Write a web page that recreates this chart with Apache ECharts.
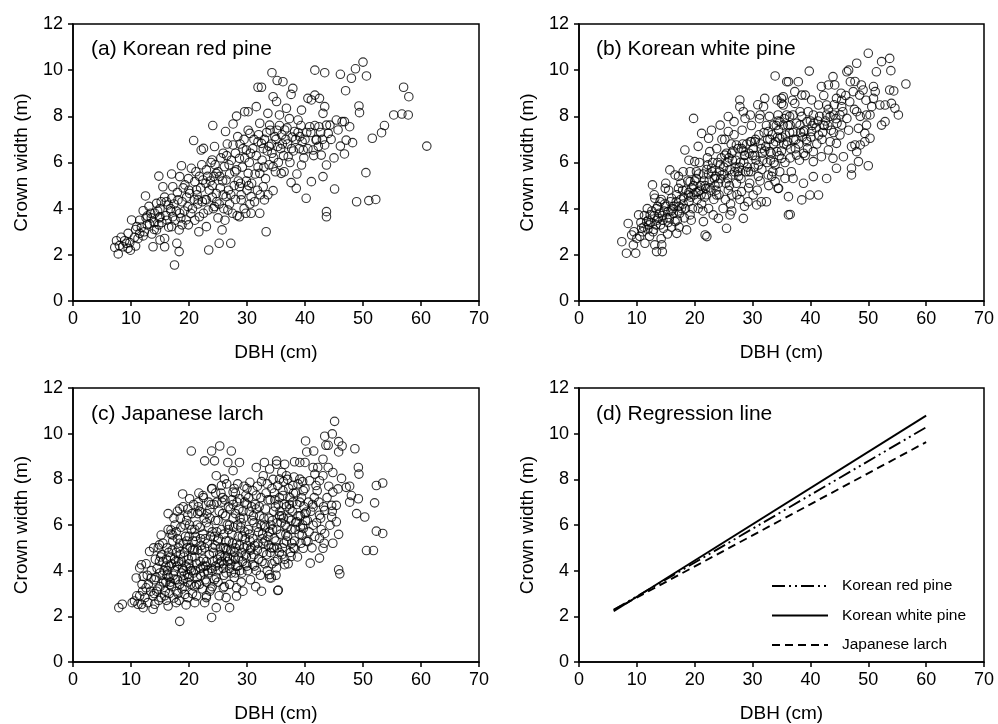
<!DOCTYPE html>
<html>
<head>
<meta charset="utf-8">
<script src="https://cdn.jsdelivr.net/npm/echarts@6/dist/echarts.min.js"></script>
<style>
  html, body { margin: 0; padding: 0; background: #fff; }
  #main { width: 998px; height: 724px; }
</style>
</head>
<body>
<div id="main"></div>
<script>
// DBH (cm), crown width (m)
var redPine = [
  [7.2,2.32],[7.8,2.04],[7.5,2.61],[8.3,2.76],[8.9,2.61],[8.6,2.35],[9.5,2.28],[9.8,2.53],[10.8,2.38],[10.6,2.76],
  [9.5,2.93],[10.1,3.51],[11.0,3.22],[11.5,2.93],[12.1,2.82],[12.5,4.55],[12.1,3.91],[12.8,3.68],[13.2,3.34],[13.8,2.35],
  [15.0,2.64],[15.8,2.35],[15.8,2.71],[14.8,5.41],[14.4,4.23],[14.1,3.80],[15.0,3.65],[14.4,3.08],[15.5,4.95],[15.2,4.30],
  [16.4,4.16],[17.0,5.50],[17.2,4.95],[17.0,4.45],[17.2,3.65],[17.0,3.22],[17.5,1.56],[17.9,2.50],[18.3,2.14],[18.3,3.08],
  [18.4,3.80],[18.1,4.38],[18.7,5.86],[18.4,5.39],[19.3,5.03],[19.8,4.09],[19.5,3.51],[20.1,4.66],[20.4,5.75],[20.8,6.95],
  [21.0,5.17],[21.3,4.81],[21.6,4.38],[21.7,3.00],[21.8,3.65],[22.1,6.54],[22.5,6.61],[22.4,5.24],[23.0,5.68],[23.0,4.38],
  [23.3,3.94],[23.0,3.22],[23.4,2.21],[24.1,7.60],[24.0,6.11],[24.4,6.69],[24.7,5.53],[24.7,4.66],[24.4,4.09],[25.2,2.50],
  [25.7,3.08],[25.9,6.40],[26.1,5.82],[26.3,7.34],[26.4,5.24],[26.4,4.52],[26.7,3.94],[27.2,2.50],[27.6,6.76],[27.6,7.67],
  [28.2,8.01],[28.4,7.12],[28.7,6.18],[28.2,5.68],[28.7,4.95],[29.0,4.38],[28.7,3.65],[29.6,8.20],[30.2,8.20],[29.9,6.54],
  [30.2,5.53],[30.5,7.26],[30.7,4.52],[30.7,3.80],[31.6,8.42],[31.9,9.26],[32.5,9.26],[32.2,7.70],[32.5,6.83],[32.2,5.53],
  [32.8,4.95],[32.2,3.80],[33.3,3.00],[33.0,4.38],[33.6,8.13],[33.9,7.62],[34.3,9.89],[34.5,8.85],[34.8,7.12],[34.5,5.82],
  [34.5,4.78],[35.2,9.55],[35.1,8.64],[35.3,6.69],[35.6,8.06],[35.9,5.53],[36.2,9.50],[36.5,7.41],[36.8,8.35],[37.1,6.25],
  [37.6,5.13],[37.9,9.21],[37.6,8.95],[38.2,7.34],[38.5,4.88],[38.8,7.84],[39.1,7.12],[39.4,8.27],[39.4,5.89],[39.7,6.54],
  [40.2,4.45],[40.5,8.78],[40.8,7.55],[41.1,8.71],[41.1,5.17],[41.4,6.54],[41.7,8.92],[41.7,10.0],[41.9,6.97],[42.4,7.55],
  [42.5,8.78],[42.8,6.32],[43.1,8.13],[43.1,5.39],[43.4,9.89],[43.4,8.42],[43.4,6.76],[43.7,7.62],[43.7,5.89],[43.7,3.87],
  [43.7,3.65],[44.0,7.26],[44.3,7.62],[45.1,4.85],[45.4,7.84],[45.7,7.41],[46.1,6.71],[46.1,9.82],[46.4,7.77],[46.8,6.37],
  [47.0,9.11],[47.1,6.97],[46.8,7.77],[47.7,7.55],[48.0,9.65],[48.2,6.86],[48.7,10.06],[48.9,4.30],[49.3,8.45],[49.4,8.16],
  [50.0,10.35],[50.6,9.75],[50.5,5.56],[51.0,4.35],[51.6,7.05],[52.2,4.40],[53.2,7.29],[53.7,7.60],[55.3,8.06],[56.7,8.10],
  [57.0,9.26],[57.8,8.06],[57.9,8.85],[61.0,6.71],
  [12.8,3.3],[13.5,3.6],[14.0,3.1],[14.6,3.9],[15.3,3.4],[16.0,3.7],[16.5,3.2],[13.1,4.1],[15.8,4.5],[16.8,4.0],
  [17.6,3.5],[18.8,3.3],[19.2,3.9],[19.9,3.3],[20.6,4.0],[21.0,3.5],[21.4,4.6],[22.0,4.9],[22.8,4.4],[23.5,4.8],
  [24.0,5.0],[24.8,4.3],[25.4,4.9],[25.0,5.6],[25.8,5.2],[26.0,4.0],[26.8,4.8],[27.0,5.5],[27.3,6.1],[27.8,5.0],
  [28.0,4.4],[28.5,5.2],[29.2,5.8],[29.5,4.0],[29.8,3.8],[30.0,4.8],[30.4,6.0],[30.8,5.1],[31.0,6.6],[31.3,4.3],
  [31.6,6.3],[31.9,5.8],[32.0,7.2],[32.3,4.6],[32.6,6.1],[33.0,7.0],[33.2,5.3],[33.5,6.5],[33.8,5.9],[34.0,7.4],
  [34.2,6.8],[34.6,6.2],[35.0,7.0],[35.4,6.0],[35.8,6.6],[36.0,7.2],[36.3,6.3],[36.7,7.0],[37.0,6.8],[37.4,6.0],
  [37.8,7.1],[38.0,6.5],[38.4,7.0],[39.0,6.6],[39.5,6.9],[40.0,7.0],[40.5,6.6],[41.0,7.3],[41.5,6.3],[42.0,7.0],
  [20.0,4.8],[21.2,5.6],[22.2,5.9],[23.2,5.4],[23.8,6.0],[24.5,5.9],[25.5,6.2],[26.5,6.3],[27.0,4.2],[28.0,6.4],
  [28.8,6.8],[29.5,7.0],[30.2,7.4],[31.2,7.0],[18.0,4.7],[18.8,4.3],[19.6,4.5],[17.8,3.9],[16.2,3.5],[15.0,4.0],
  [27.5,3.8],[28.3,3.7],[29.0,4.6],[30.5,4.2],[24.2,4.0],[25.0,3.6],[22.5,3.8],[21.5,4.2],[26.2,3.5],[31.8,4.8],
  [33.6,4.6],[34.9,5.6],[36.4,5.6],[38.6,5.5],[39.8,6.2],[42.3,6.7],[43.0,7.0],[44.5,7.0],[45.0,6.2],[11.5,3.5],
  [12.3,3.0],[13.6,2.9],[14.8,3.3],[10.8,3.1],[9.2,2.5],[8.0,2.4],[9.9,2.2],[11.2,2.7],
  [11.8,3.2],[13.4,3.8],[14.9,3.6],[16.1,4.3],[17.4,4.2],[18.6,3.6],[19.0,4.9],[20.3,3.8],[20.9,4.4],[22.3,4.3],
  [22.9,5.1],[24.3,5.4],[25.2,4.2],[25.9,4.6],[26.9,5.9],[27.9,5.6],[28.9,5.1],[29.6,6.2],[30.3,5.0],[31.4,5.5],
  [31.9,6.9],[32.9,5.8],[33.4,7.3],[34.3,6.4],[35.2,7.4],[36.1,6.8],[36.9,7.5],[37.7,6.6],[38.8,7.3],[40.3,7.3],
  [41.7,7.6],[42.7,7.3],[19.9,5.3],[21.8,5.4],[23.7,5.2],[25.3,5.4],[26.6,6.8],[29.3,6.6],[32.8,6.6],[30.6,6.4],
  [24.0,4.5],[27.2,4.6],[16.9,3.9],[14.0,3.4],[12.6,3.6],[29.9,5.2],[33.8,6.7],[35.6,7.6],[39.3,7.6],[37.3,7.9]
];

var whitePine = [
  [7.4,2.57],[8.2,2.07],[9.8,2.07],[8.5,3.36],[9.1,2.86],[9.4,2.43],[10.0,2.71],[10.3,3.73],[10.8,3.15],[11.4,2.50],
  [11.7,3.44],[12.7,5.03],[12.3,3.73],[12.8,3.00],[13.1,2.43],[13.4,2.14],[14.4,2.14],[14.3,2.43],[13.1,4.45],[14.0,4.30],
  [13.7,3.58],[14.9,4.88],[14.6,3.15],[15.4,3.87],[15.7,5.68],[16.0,4.45],[16.6,5.46],[16.6,3.44],[16.9,2.93],[17.2,4.88],
  [17.7,4.01],[18.3,6.54],[18.0,5.60],[18.6,3.08],[18.9,4.59],[19.2,5.17],[19.2,3.73],[19.8,7.91],[20.0,6.04],[20.3,5.60],
  [20.6,4.74],[20.6,4.01],[21.2,7.26],[21.5,3.44],[21.8,2.86],[22.1,2.79],[21.9,4.88],[22.4,7.05],[22.6,6.47],[22.4,4.01],
  [22.9,5.75],[23.2,3.73],[23.8,4.59],[24.1,3.58],[24.4,7.62],[24.7,5.46],[24.9,4.01],[25.2,6.32],[25.5,3.15],[25.8,7.99],
  [25.8,7.34],[26.1,3.73],[26.4,5.46],[26.4,4.59],[26.8,7.77],[27.2,6.76],[27.5,5.60],[27.8,8.71],[27.8,8.42],[28.1,4.74],
  [28.4,3.58],[28.7,6.32],[28.7,7.91],[29.3,5.60],[29.6,8.06],[29.8,6.90],[30.1,4.59],[30.7,4.16],[31.0,5.89],[31.3,8.06],
  [31.5,4.30],[31.9,8.42],[32.1,8.78],[32.4,4.30],[32.7,7.34],[32.7,5.46],[33.0,6.47],[33.6,7.62],[33.9,9.75],[34.2,8.71],
  [34.4,4.88],[34.7,7.77],[35.0,8.78],[35.3,8.49],[35.0,6.18],[35.9,9.50],[36.2,3.73],[36.2,4.52],[35.6,5.31],[35.7,7.19],
  [36.2,9.50],[37.9,9.50],[39.8,9.96],[37.3,9.07],[38.5,8.92],[39.1,8.92],[35.3,8.85],[35.0,8.56],[37.3,8.56],[40.2,8.71],
  [41.9,9.29],[43.1,9.36],[44.2,9.36],[43.9,9.72],[46.3,9.93],[46.6,10.0],[48.0,10.30],[50.0,10.73],[51.4,9.93],[52.3,10.37],
  [53.7,10.51],[53.9,9.98],[56.5,9.40],[47.7,9.51],[48.8,9.36],[48.5,8.92],[49.1,9.14],[50.9,9.29],[51.2,9.07],[53.7,9.14],
  [54.4,9.10],[50.9,8.78],[50.6,8.42],[52.0,8.49],[52.9,8.49],[54.0,8.56],[54.6,8.35],[55.2,8.06],[49.7,8.06],[50.3,8.06],
  [49.7,7.62],[52.3,7.62],[52.9,7.77],[48.3,7.48],[49.4,7.26],[50.3,7.05],[49.4,6.90],[47.7,6.76],[47.1,6.69],[48.6,6.76],
  [48.0,6.47],[50.0,5.86],[48.3,6.04],[47.1,5.75],[47.1,5.46],[45.7,6.25],[44.5,5.75],[43.9,6.18],[42.8,5.31],[40.5,5.39],
  [38.8,5.10],[39.9,4.59],[41.4,4.59],[38.5,4.38],[36.5,3.75],[37.0,5.31],[36.7,5.60],[37.6,6.32],[38.8,6.40],[40.5,6.47],
  [40.5,6.04],[41.9,6.25],[43.1,6.54],[43.4,6.90],[44.5,6.83],[45.1,7.19],[45.4,7.62],[46.3,7.91],[45.1,8.06],[44.0,8.06],
  [42.8,8.06],[42.2,7.62],[41.4,7.19],[40.2,7.34],[39.4,6.90],[38.8,7.34],[38.2,7.62],[39.4,7.77],[40.5,8.06],[41.4,8.49],
  [42.8,8.49],[44.5,8.78],[45.4,8.42],[46.8,8.63],[47.4,9.07],[48.0,8.20],[36.5,7.62],[35.3,7.62],[35.9,8.06],[37.0,8.06],
  [34.4,8.06],[34.7,7.05],[35.9,6.76],[34.2,6.47],[33.9,5.89],[34.7,5.60],[33.9,5.17],[34.5,4.88],
  [12.0,3.5],[12.6,3.9],[13.3,3.3],[13.9,3.8],[14.5,3.5],[15.0,4.1],[15.6,3.6],[16.2,4.0],[16.8,4.3],[17.4,3.8],
  [18.0,4.2],[18.5,4.8],[19.0,4.3],[19.5,4.9],[20.0,5.2],[20.4,4.4],[21.0,5.0],[21.5,5.5],[22.0,4.6],[22.5,5.2],
  [23.0,5.6],[23.5,5.0],[24.0,6.0],[24.5,5.3],[25.0,5.8],[25.5,6.4],[26.0,5.0],[26.5,6.1],[27.0,5.8],[27.5,6.6],
  [28.0,5.3],[28.5,6.0],[29.0,6.8],[29.5,5.1],[30.0,6.3],[30.5,7.0],[31.0,5.4],[31.5,6.6],[32.0,7.3],[32.5,6.0],
  [33.0,7.0],[33.5,5.6],[34.0,6.9],[34.5,7.4],[35.0,6.5],[35.5,7.9],[36.0,6.9],[36.5,6.2],[37.0,7.3],[37.5,7.0],
  [38.0,6.8],[38.5,8.0],[39.0,7.4],[39.5,6.6],[40.0,7.8],[41.0,7.5],[42.0,7.0],[43.0,7.6],[44.0,7.3],[16.0,3.2],
  [17.0,3.5],[18.2,3.6],[19.6,4.0],[21.2,4.2],[22.8,4.8],[24.2,4.6],[25.8,4.8],[27.2,5.1],[28.8,5.6],[30.3,5.8],
  [31.8,6.1],[33.2,6.4],[23.8,6.6],[25.2,7.0],[26.8,7.2],[28.2,7.4],[29.8,7.6],[31.2,7.9],[20.8,6.0],[22.2,6.2],
  [19.2,5.6],[17.6,5.1],[14.2,4.4],[15.5,4.8],[27.8,4.4],[29.2,4.3],[26.2,4.2],[30.8,4.8],[32.8,5.0],[11.0,3.0],
  [12.2,2.8],[10.5,2.8],[9.5,3.0],[11.8,4.0],[13.0,4.6],
  [10.7,3.4],[11.3,3.7],[11.9,3.1],[12.4,3.4],[13.0,3.7],[13.6,4.1],[14.1,3.3],[14.7,3.9],[15.2,3.6],[15.8,4.3],
  [16.3,3.8],[16.9,4.6],[17.3,4.1],[17.9,4.8],[18.4,4.0],[18.8,5.2],[19.3,4.5],[19.8,5.0],[20.2,4.7],[20.7,5.5],
  [21.1,4.6],[21.6,5.2],[22.1,5.7],[22.6,4.9],[23.1,6.0],[23.6,5.4],[24.1,5.1],[24.6,6.2],[25.1,5.5],[25.6,6.0],
  [26.1,5.7],[26.6,6.5],[27.1,6.1],[27.6,5.4],[28.1,6.6],[28.6,6.3],[29.1,5.8],[29.6,6.9],[30.1,6.6],[30.6,6.1],
  [31.1,7.2],[31.6,5.7],[32.1,6.5],[32.6,7.0],[33.1,6.1],[33.6,6.8],[34.1,7.6],[34.6,6.3],[35.1,7.1],[35.6,6.0],
  [36.1,7.6],[36.6,6.6],[37.1,7.0],[37.6,7.7],[38.1,6.1],[38.6,7.1],[39.1,6.3],[39.6,8.2],[40.1,7.1],[40.6,7.7],
  [41.1,6.8],[41.6,8.0],[42.1,7.3],[42.6,7.8],[43.1,8.3],[43.6,7.4],[44.1,8.5],[44.6,7.7],[45.6,8.2],[46.1,8.9],
  [46.6,7.4],[47.6,8.3],[48.6,8.0],[49.6,8.7],[23.3,4.4],[25.3,4.4],[27.3,4.6],[29.3,4.9],[31.3,5.2],[33.3,5.4],
  [26.4,3.9],[28.6,4.1],[21.4,3.9],[19.4,3.5],[17.3,3.2],[15.3,2.9],[12.9,3.1],[14.2,2.7],[22.9,7.4],[24.7,7.0],
  [26.3,6.8],[20.6,6.7],[19.0,6.1],[17.2,5.4],[15.0,5.1],[30.9,8.5],[32.9,8.0],[28.4,8.2],[36.9,8.7],[38.2,8.2],
  [42.3,8.9],[45.3,9.0],[46.9,9.5],
  [13.5,3.5],[14.4,3.7],[15.4,3.4],[16.4,4.1],[17.1,3.9],[18.1,4.5],[19.0,4.7],[19.9,4.6],[20.9,4.8],[21.8,5.0],
  [22.4,5.5],[23.4,5.3],[24.3,5.6],[25.4,5.1],[25.9,6.2],[26.9,5.6],[27.9,6.0],[28.3,6.8],[29.4,6.4],[30.4,6.3],
  [31.4,6.8],[32.3,6.7],[33.4,7.2],[34.3,7.1],[35.4,6.8],[36.4,7.3],[37.4,6.6],[38.3,7.3],[39.3,7.0],[40.3,7.6],
  [41.3,7.8],[42.4,7.6],[43.4,8.0],[44.4,7.9],[45.4,8.7],[20.3,5.3],[22.3,5.9],[24.4,5.9],[26.4,6.4],[28.4,6.5],
  [30.4,6.9],[32.4,7.6],[34.4,7.8],[36.4,8.0],[17.6,4.4],[15.9,3.9],[14.8,4.2],[13.4,4.0],[12.1,3.3],[11.2,3.2],
  [21.7,4.5],[23.7,4.8],[25.7,5.3],[27.7,5.8],[29.7,5.6],[31.7,6.4],[33.7,6.0]
];

var larch = [
  [7.9,2.38],[8.5,2.53],[10.6,2.67],[11.2,2.53],[11.8,2.53],[12.1,2.38],[13.8,2.31],[14.1,2.53],[16.4,2.45],[17.8,2.60],
  [18.4,1.78],[20.4,9.24],[22.7,8.81],[23.9,9.24],[25.3,9.46],[27.3,9.24],[24.4,8.81],[26.7,8.74],[28.7,8.74],[27.6,8.38],
  [24.7,8.16],[26.1,8.01],[23.9,1.95],[27.0,2.38],[16.4,6.50],[18.9,7.36],[20.1,7.15],[22.4,7.29],[18.4,6.71],[19.8,6.43],
  [21.6,7.00],[22.1,6.57],[23.9,7.58],[25.6,7.73],[27.6,7.44],[28.7,7.15],[30.5,7.87],[31.6,8.52],[33.0,8.74],[35.1,8.81],
  [33.9,8.45],[32.8,8.16],[35.3,7.73],[32.5,3.10],[33.9,3.68],[35.3,3.13],[33.9,3.83],[31.0,4.26],[16.9,5.78],[17.2,5.56],
  [15.2,5.56],[14.9,5.13],[13.2,4.84],[11.8,4.26],[11.5,4.12],[10.9,3.68],[12.1,3.75],[12.6,3.25],[12.4,2.82],[13.5,3.68],
  [14.9,4.41],[14.4,3.10],[15.2,2.82],[16.7,3.39],[17.8,3.10],[19.3,2.96],[19.8,2.82],[21.3,2.89],[22.7,2.60],[23.0,2.82],
  [24.7,2.38],[26.4,2.82],[28.2,2.89],[28.2,3.25],[29.3,3.10],[25.9,3.25],[23.6,3.10],[21.3,3.39],[19.8,3.83],
  [45.1,10.54],[43.4,9.89],[44.7,9.99],[43.6,9.49],[44.0,9.49],[40.1,9.68],[40.3,9.20],[41.5,9.24],[45.8,9.65],[46.4,9.46],
  [45.8,9.20],[48.6,9.34],[43.1,8.88],[40.0,8.74],[38.2,8.77],[39.1,8.74],[41.4,8.52],[42.2,8.52],[44.0,8.52],[49.2,8.52],
  [49.3,8.23],[41.7,8.23],[43.1,8.16],[44.8,8.30],[46.3,8.04],[40.8,7.94],[42.5,7.94],[41.9,7.73],[44.8,7.44],[45.7,7.58],
  [47.1,7.65],[47.7,7.70],[52.3,7.73],[53.4,7.84],[48.0,7.29],[49.2,7.15],[47.7,7.00],[52.0,6.97],[44.6,6.86],[45.4,6.86],
  [41.4,6.79],[43.4,6.64],[42.5,6.43],[48.9,6.50],[50.3,6.35],[44.6,6.35],[45.4,6.14],[44.3,5.99],[41.4,5.99],[39.7,5.85],
  [43.4,5.63],[45.8,5.59],[42.5,5.42],[44.8,5.20],[52.3,5.73],[53.4,5.63],[50.6,4.88],[51.8,4.88],[43.1,4.98],[40.5,5.27],
  [39.7,4.98],[42.5,4.55],[40.9,4.33],[37.6,4.62],[36.5,4.26],[35.1,4.12],[34.2,3.68],[35.4,3.15],[45.8,4.04],[46.0,3.86],
  [38.2,4.98],[39.5,5.56],[38.6,6.14],[40.2,6.57],[37.4,6.71],[36.2,7.29],[37.9,7.73],[39.1,8.01],[36.8,8.16],[35.6,8.01],
  [36.5,8.66],[35.1,8.66],
  [13.0,3.4],[13.5,4.0],[14.0,3.6],[14.2,4.5],[14.6,3.2],[15.0,3.9],[15.3,4.7],[15.6,3.5],[16.0,4.2],[16.2,5.0],
  [16.5,3.7],[16.8,4.6],[17.0,3.3],[17.2,5.3],[17.5,4.0],[17.8,4.8],[13.8,2.9],[15.8,2.9],[16.6,3.0],
  [18.0,3.6],[18.2,4.4],[18.4,5.2],[18.6,5.9],[18.8,3.2],[19.0,4.0],[19.2,4.8],[19.4,5.5],[19.6,6.2],[19.8,3.5],
  [20.0,4.3],[20.2,5.0],[20.4,5.8],[20.6,3.0],[20.8,3.9],[21.0,4.6],[21.2,5.3],[21.4,6.0],[21.6,6.8],[21.8,3.4],
  [22.0,4.1],[22.2,4.9],[22.4,5.6],[22.6,6.3],[18.3,2.7],[19.5,2.5],[21.0,2.6],[17.6,6.0],[19.0,6.8],[20.5,6.5],
  [22.8,3.6],[23.0,4.4],[23.2,5.2],[23.4,5.9],[23.6,6.7],[23.8,3.2],[24.0,4.0],[24.2,4.8],[24.4,5.5],[24.6,6.2],
  [24.8,7.0],[25.0,3.5],[25.2,4.3],[25.4,5.0],[25.6,5.8],[25.8,6.5],[26.0,3.8],[26.2,4.6],[26.4,5.3],[26.6,6.0],
  [26.8,6.8],[27.0,4.1],[27.2,4.9],[27.4,5.6],[27.6,6.3],[22.5,7.2],[24.0,7.6],[25.5,7.4],[26.5,7.8],[23.0,2.9],
  [25.2,2.9],[27.0,3.4],
  [27.8,3.7],[28.0,4.5],[28.2,5.2],[28.4,6.0],[28.6,6.7],[28.8,4.0],[29.0,4.8],[29.2,5.5],[29.4,6.3],[29.6,7.0],
  [29.8,4.3],[30.0,5.1],[30.2,5.8],[30.4,6.6],[30.6,3.6],[30.8,4.6],[31.0,5.4],[31.2,6.1],[31.4,6.9],[31.6,4.0],
  [31.8,4.9],[32.0,5.7],[32.2,6.4],[32.4,7.2],[32.6,4.4],[32.8,5.2],[33.0,6.0],[28.0,7.4],[29.5,7.7],[31.0,7.5],
  [32.5,7.9],[29.0,3.5],[31.5,3.3],
  [33.2,6.7],[33.4,4.7],[33.6,5.5],[33.8,6.3],[34.0,7.1],[34.2,5.0],[34.4,5.8],[34.6,6.6],[34.8,4.4],[35.0,5.3],
  [35.2,6.1],[35.4,6.9],[35.6,4.8],[35.8,5.6],[36.0,6.4],[36.2,7.5],[36.4,5.2],[36.6,6.0],[36.8,6.8],[37.0,5.5],
  [37.2,6.3],[37.4,7.2],[37.6,5.8],[37.8,6.6],[38.0,7.4],[38.2,5.3],[38.4,6.1],[38.6,6.9],[38.8,7.8],[39.0,5.6],
  [39.2,6.4],[39.4,7.2],[39.6,6.0],[39.8,6.8],[40.0,7.6],[40.2,5.3],[40.4,6.2],[40.6,7.0],[41.0,6.6],[41.2,5.0],
  [41.6,7.2],[42.0,6.1],[42.4,7.0],[42.8,5.8],[43.2,6.8],[43.8,7.2],[33.5,4.0],[35.0,3.8],[36.5,4.5],[37.5,4.8],
  [34.5,8.0],[36.0,8.3],[37.0,8.0],
  [14.5,4.1],[15.5,4.4],[16.5,4.8],[17.5,4.5],[18.5,4.7],[19.5,4.2],[20.5,4.6],[21.5,4.9],[22.5,4.5],[23.5,4.7],
  [24.5,5.1],[25.5,4.6],[26.5,4.9],[27.5,5.2],[28.5,5.5],[29.5,5.0],[30.5,5.3],[19.0,3.6],[20.0,3.7],[21.0,3.3],
  [22.0,3.8],[23.0,3.5],[24.0,3.3],[25.0,4.0],[26.0,4.3],[27.0,4.5],[28.0,3.9],[17.0,4.3],[18.0,5.4],[19.0,5.2],
  [20.0,5.5],[21.0,5.8],[22.0,5.4],[23.0,6.1],[24.0,5.7],[25.0,6.2],[26.0,5.6],[27.0,6.0],[28.0,6.5],[29.0,6.1],
  [30.0,6.9],[16.0,3.5],[15.0,3.3],[14.0,3.0],[12.8,3.8],[12.0,3.1],[11.5,2.9],
  [14.3,3.7],[15.1,4.6],[15.9,3.1],[16.3,4.0],[16.9,5.6],[17.3,3.8],[17.7,4.4],[18.1,3.0],[18.5,6.3],[18.9,4.1],
  [19.3,3.3],[19.7,5.0],[20.1,6.0],[20.3,3.4],[20.7,5.3],[21.1,4.0],[21.5,6.5],[21.9,4.4],[22.3,3.2],[22.7,5.0],
  [23.1,6.5],[23.3,3.9],[23.7,5.5],[24.1,4.4],[24.3,6.9],[24.7,3.7],[25.1,5.4],[25.3,4.7],[25.7,7.0],[26.1,3.3],
  [26.3,6.4],[26.7,4.4],[27.1,6.7],[27.3,3.9],[27.7,5.9],[28.1,4.2],[28.3,7.0],[28.7,5.1],[29.1,3.9],[29.3,6.6],
  [29.7,5.4],[30.1,4.0],[30.3,7.2],[30.7,5.0],[31.1,6.4],[31.3,4.2],[31.7,5.9],[32.1,6.8],[32.3,3.8],[32.7,5.6],
  [33.1,4.3],[33.3,7.4],[33.7,5.1],[34.1,6.0],[34.3,4.3],[34.7,7.4],[35.1,5.8],[35.3,4.5],[35.7,6.6],[36.1,5.0],
  [36.3,7.9],[36.7,5.6],[37.1,4.3],[37.3,6.9],[37.7,5.2],[38.1,8.1],[38.3,5.8],[38.7,4.6],[39.1,7.0],[39.3,5.2],
  [39.7,7.5],[40.1,6.2],[40.7,5.7],[41.3,6.9],[41.7,5.5],[42.1,7.5],[42.7,6.3],[43.3,5.2],[44.1,7.7],[44.7,6.6],
  [18.7,3.9],[19.9,4.5],[21.3,4.3],[22.1,5.1],[23.9,4.1],[24.9,5.3],[25.9,4.1],[26.9,5.3],[27.9,4.8],[28.9,5.9],
  [29.9,4.6],[30.9,6.2],[31.9,5.2],[32.9,6.3],[33.9,5.7],[34.9,6.8],[35.9,6.1],[36.9,5.9],[37.9,7.0],[15.7,4.0],
  [16.7,4.2],[17.9,4.2],[19.1,4.6],[20.9,4.9],[22.9,4.2],[24.9,4.5],[26.3,5.0],[27.7,4.6],[29.7,4.7],[31.3,5.1],
  [33.1,5.3],[34.7,5.4],[36.3,6.3],[13.4,3.1],[14.8,2.7],[16.1,2.7],[17.4,2.8],[12.9,2.6],[11.9,3.4],[10.2,2.6],
  [11.0,2.9],[12.6,4.3],[13.9,5.0],[15.5,5.2],[16.4,5.8],[17.8,5.7],[18.0,6.6],[19.3,6.0],[20.8,6.9],[21.7,7.4],
  [23.4,7.0],[24.6,7.4],[26.2,7.1],[27.4,7.1],[28.4,7.8],[30.0,7.6],[31.8,7.7],[33.5,7.8],[34.3,7.6],[35.6,7.2],
  [14.7,5.0],[15.4,3.8],[16.1,4.5],[16.8,3.5],[17.1,4.9],[17.6,3.6],[18.2,5.0],[18.7,4.4],[19.2,3.8],[19.6,5.3],
  [20.2,4.1],[20.6,4.9],[21.1,5.5],[21.4,3.7],[21.9,5.9],[22.4,4.2],[22.8,5.4],[23.2,4.0],[23.6,6.3],[24.1,5.0],
  [24.4,3.6],[24.8,5.7],[25.2,6.6],[25.6,4.4],[26.0,5.0],[26.4,3.9],[26.8,5.8],[27.2,4.3],[27.6,6.9],[28.0,5.0],
  [28.4,4.2],[28.8,6.3],[29.2,4.4],[29.6,5.7],[30.0,4.2],[30.4,5.6],[30.8,6.8],[31.2,4.7],[31.6,6.7],[32.0,4.5],
  [32.4,6.0],[32.8,4.8],[33.2,5.9],[33.6,7.1],[34.0,4.8],[34.4,6.2],[34.8,7.1],[35.2,5.0],[35.6,6.4],[36.0,4.7],
  [36.4,6.9],[36.8,5.3],[37.2,7.6],[37.6,6.2],[38.0,5.0],[38.4,7.4],[38.8,6.4],[39.2,5.9],[39.6,7.9],[40.0,6.5],
  [16.2,3.8],[18.4,3.4],[20.4,4.0],[22.6,3.9],[24.6,4.2],[26.6,4.6],[28.6,4.6],[30.6,4.9],[32.6,5.4],[34.6,5.0],
  [17.4,6.3],[19.8,6.7],[21.8,6.6],[23.8,6.9],[25.8,7.2],[27.8,7.6],[29.8,7.3],[31.6,7.3]
];

// regression lines: end points
var lineRed = [[6, 2.28], [60, 10.28]];
var lineWhite = [[6, 2.22], [60, 10.79]];
var lineLarch = [[6, 2.28], [60, 9.63]];

var panelTitles = ['(a) Korean red pine', '(b) Korean white pine', '(c) Japanese larch', '(d) Regression line'];
var legendNames = ['Korean red pine', 'Korean white pine', 'Japanese larch'];

var FONT = '"Liberation Sans", Arial, sans-serif';
var myChart = echarts.init(document.getElementById('main'));

var grids = [
  {left: 73, top: 24, width: 406, height: 277},
  {left: 579, top: 24, width: 405, height: 277},
  {left: 73, top: 388, width: 406, height: 277},
  {left: 579, top: 388, width: 405, height: 277}
];

var titlePos = [[91, 39], [596, 39], [91, 404], [596, 404]];

function xAx(i) {
  return {
    gridIndex: i, type: 'value', min: 0, max: 70, interval: 10,
    name: 'DBH (cm)', nameLocation: 'middle', nameGap: 42,
    nameTextStyle: {fontFamily: FONT, fontSize: 19, color: '#000'},
    axisLine: {lineStyle: {color: '#000', width: 1.5}},
    axisTick: {show: true, length: 5, lineStyle: {color: '#000', width: 1.5}},
    axisLabel: {fontFamily: FONT, fontSize: 18, color: '#000', margin: 9},
    splitLine: {show: false}
  };
}
function yAx(i) {
  return {
    gridIndex: i, type: 'value', min: 0, max: 12, interval: 2,
    name: 'Crown width (m)', nameLocation: 'middle', nameGap: 42,
    nameTextStyle: {fontFamily: FONT, fontSize: 19, color: '#000'},
    axisLine: {show: true, lineStyle: {color: '#000', width: 1.5}},
    axisTick: {show: true, length: 5, lineStyle: {color: '#000', width: 1.5}},
    axisLabel: {fontFamily: FONT, fontSize: 18, color: '#000', margin: 10},
    splitLine: {show: false}
  };
}

function scatter(i, data) {
  return {
    type: 'scatter', xAxisIndex: i, yAxisIndex: i, data: data,
    symbol: 'circle', symbolSize: 8.5, silent: true,
    itemStyle: {color: 'rgba(0,0,0,0)', borderColor: '#000', borderWidth: 1.1}
  };
}
function regLine(name, data, type) {
  return {
    name: name, type: 'line', xAxisIndex: 3, yAxisIndex: 3, data: data,
    symbol: 'none', silent: true,
    itemStyle: {color: '#000'},
    lineStyle: {color: '#000', width: 1.9, type: type}
  };
}

var option = {
  backgroundColor: '#fff',
  animation: false,
  title: panelTitles.map(function (t, i) {
    return {
      text: t, left: titlePos[i][0], top: titlePos[i][1], padding: 0,
      textStyle: {fontFamily: FONT, fontSize: 21, fontWeight: 'normal', color: '#000'}
    };
  }),
  grid: grids.map(function (g) {
    return {left: g.left, top: g.top, width: g.width, height: g.height,
      show: true, borderColor: '#000', borderWidth: 1.5, backgroundColor: 'transparent'};
  }),
  xAxis: [xAx(0), xAx(1), xAx(2), xAx(3)],
  yAxis: [yAx(0), yAx(1), yAx(2), yAx(3)],
  legend: {
    data: legendNames, orient: 'vertical', left: 766, top: 573,
    itemWidth: 56, itemHeight: 14, itemGap: 13.5,
    itemStyle: {opacity: 0},
    textStyle: {fontFamily: FONT, fontSize: 15.5, color: '#000', padding: [0, 0, 0, 9]},
    selectedMode: false
  },
  series: [
    scatter(0, redPine),
    scatter(1, whitePine),
    scatter(2, larch),
    regLine(legendNames[0], lineRed, [13, 4, 2, 4, 2, 4]),
    regLine(legendNames[1], lineWhite, 'solid'),
    regLine(legendNames[2], lineLarch, [8, 5])
  ]
};

myChart.setOption(option);
window.addEventListener('resize', function () {
  myChart.resize();
});
</script>
</body>
</html>
